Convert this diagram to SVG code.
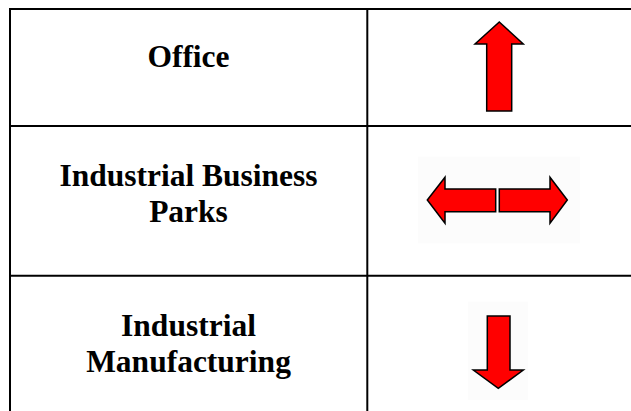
<svg xmlns="http://www.w3.org/2000/svg" width="631" height="411" viewBox="0 0 631 411">
<style>
.grid{stroke:#000;stroke-width:2;fill:none}
.lbl{font-family:"Liberation Serif","Times New Roman",serif;font-weight:bold;font-size:31.5px;fill:#000;text-anchor:middle}
.arr{fill:#ff0000;stroke:#000;stroke-width:1.5;stroke-linejoin:miter}
.bg{fill:#fcfcfc}
</style>
<rect width="631" height="411" fill="#fff"/>
<g id="table" class="grid">
<line x1="9" y1="9" x2="631" y2="9"/>
<line x1="9" y1="126" x2="631" y2="126"/>
<line x1="9" y1="275.7" x2="631" y2="275.7"/>
<line x1="10" y1="8" x2="10" y2="411"/>
<line x1="367.3" y1="8" x2="367.3" y2="411"/>
</g>
<g id="row-office">
<text class="lbl" x="188.5" y="67.3">Office</text>
<polygon id="arrow-up" class="arr" points="499.3,22 523.3,44 511.7,44 511.7,111 486.7,111 486.7,44 475,44"/>
</g>
<g id="row-parks">
<text class="lbl" x="188.5" y="185.5">Industrial Business</text>
<text class="lbl" x="188.5" y="221.7">Parks</text>
<rect class="bg" x="418" y="156.7" width="162" height="86.6"/>
<polygon id="arrow-left" class="arr" points="427.3,200 445,177.3 445,189 495.7,189 495.7,211.7 445,211.7 445,223.3"/>
<polygon id="arrow-right" class="arr" points="567.3,200 550,177.3 550,189 499.3,189 499.3,211.7 550,211.7 550,223.3"/>
</g>
<g id="row-manufacturing">
<text class="lbl" x="188.5" y="335.7">Industrial</text>
<text class="lbl" x="188.5" y="371.7">Manufacturing</text>
<rect class="bg" x="468" y="301.7" width="60" height="98.3"/>
<polygon id="arrow-down" class="arr" points="487.3,316 510,316 510,370 523.3,370 498.3,388.3 473.3,370 487.3,370"/>
</g>
</svg>
